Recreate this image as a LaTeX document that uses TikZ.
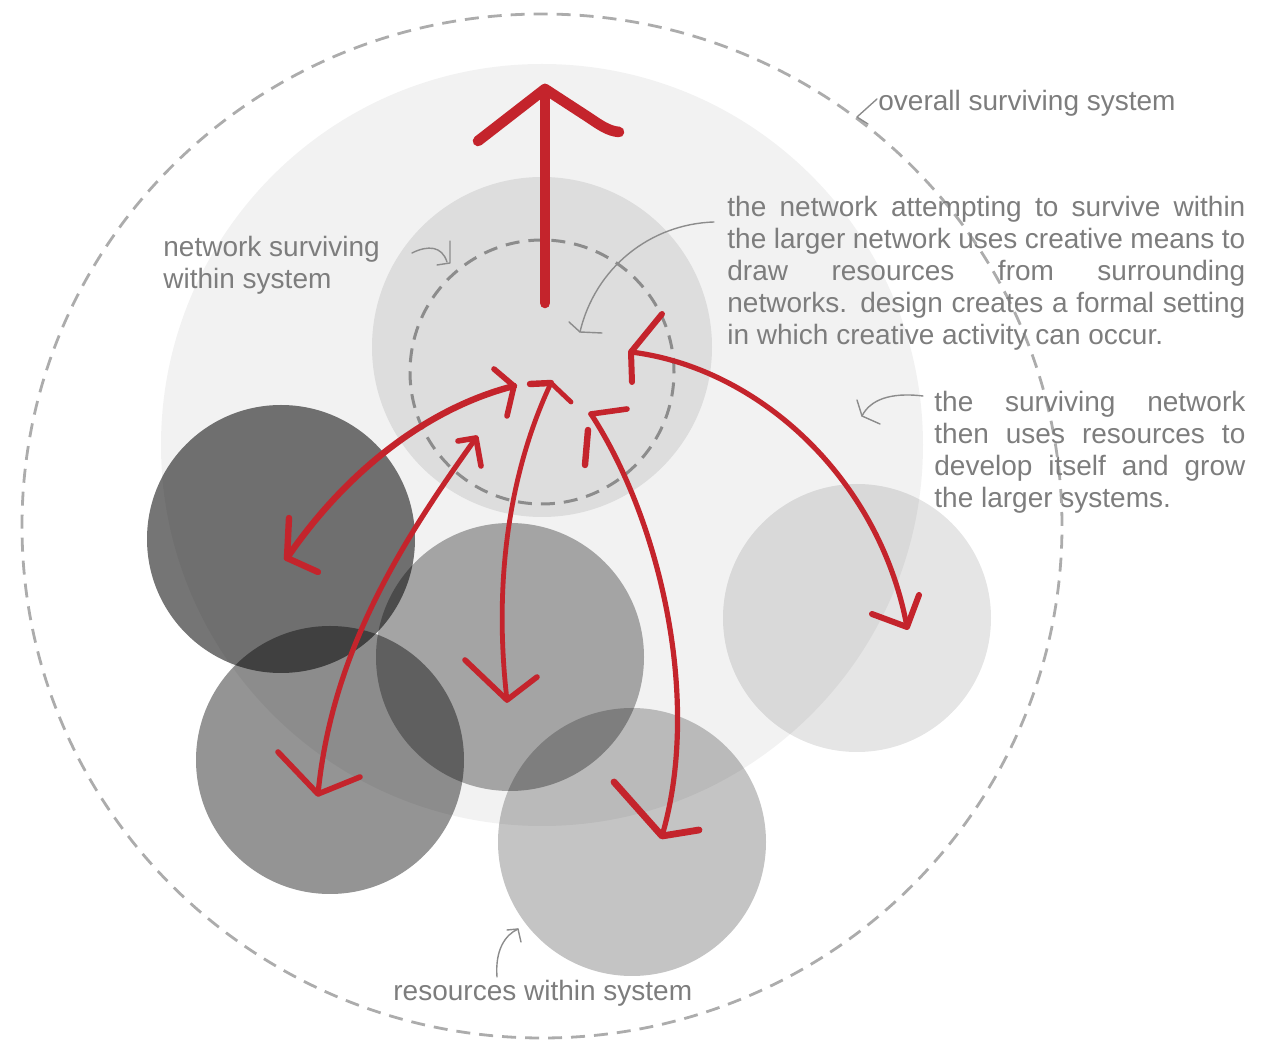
\documentclass[tikz,border=0pt]{standalone}
\usepackage{fontspec}
\usetikzlibrary{shapes.geometric}
\setmainfont{Liberation Sans}
\definecolor{penred}{RGB}{196,36,44}
\definecolor{anngray}{RGB}{140,140,140}
\definecolor{txtgray}{RGB}{125,125,125}
\definecolor{dashgray}{RGB}{172,172,172}
\definecolor{innergray}{RGB}{140,140,140}
\definecolor{sysgray}{RGB}{242,242,242}
\definecolor{netgray}{RGB}{221,221,221}
\begin{document}
\begin{tikzpicture}[x=0.5pt,y=-0.5pt,
  redpen/.style={draw=penred, line cap=round, line join=round},
  ann/.style={draw=anngray, line width=0.7pt, line cap=round, line join=round},
  lbl/.style={text=txtgray, font=\fontsize{14}{16}\selectfont, inner sep=0pt, anchor=base west},
  res/.style={circle, fill=black, draw=none, inner sep=0pt, minimum size=134pt}]
\useasboundingbox (0,0) rectangle (1266,1042);
% outer system
\node[ellipse, draw=dashgray, line width=1.4pt, dash pattern=on 7pt off 4.5pt, inner sep=0pt, minimum width=520pt, minimum height=512pt] (outer) at (542,526) {};
\node[circle, fill=sysgray, draw=none, inner sep=0pt, minimum size=381pt] (sys) at (542,445) {};
% network surviving within system
\node[circle, fill=netgray, draw=none, inner sep=0pt, minimum size=170pt] (net) at (542,347) {};
\node[circle, draw=innergray, line width=1.5pt, dash pattern=on 7pt off 4.5pt, inner sep=0pt, minimum size=132pt] (inner) at (542,372) {};
% resources
\node[res, fill opacity=0.10] (rright) at (857,618) {};
\node[res, fill opacity=0.54] (rdark) at (281,539) {};
\node[res, fill opacity=0.32] (rmid) at (510,657) {};
\node[res, fill opacity=0.42] (rlow) at (330,760) {};
\node[res, fill opacity=0.23] (rbot) at (632,842) {};
% red arrows
\coordinate (top) at (545,89);
\coordinate (topfoot) at (545,303);
\draw[redpen, line width=5.3pt] (topfoot) -- (top);
\draw[redpen, line width=5.3pt] (478,141) -- (top) -- (588,117) .. controls (600,125) and (608,131) .. (619,132);
% arrow to dark circle
\coordinate (a1s) at (514,386);
\coordinate (a1e) at (287,558);
\draw[redpen, line width=3.2pt] (a1e) .. controls (340,480) and (420,410) .. (a1s);
\draw[redpen, line width=3.2pt] (289,518) -- (a1e) -- (318,572);
\draw[redpen, line width=2.8pt] (494,369) -- (a1s) -- (507,416);
% arrow to lower-left circle
\coordinate (a2s) at (476,438);
\coordinate (a2e) at (318,794);
\draw[redpen, line width=2.6pt] (a2s) .. controls (403,540) and (332,650) .. (a2e);
\draw[redpen, line width=2.8pt] (458,441) -- (a2s) -- (481,466);
\draw[redpen, line width=2.8pt] (278,752) -- (a2e) -- (360,777);
% arrow to middle circle
\coordinate (a3s) at (551,383);
\coordinate (a3e) at (507,700);
\draw[redpen, line width=2.4pt] (a3s) .. controls (510,470) and (493,580) .. (a3e);
\draw[redpen, line width=3.2pt] (530,384) -- (a3s);
\draw[redpen, line width=2.4pt] (a3s) -- (571,402);
\draw[redpen, line width=2.8pt] (465,660) -- (a3e) -- (537,677);
% arrow to bottom circle
\coordinate (a4s) at (591,414);
\coordinate (a4e) at (662,836);
\draw[redpen, line width=2.6pt] (a4s) .. controls (660,520) and (702,700) .. (a4e);
\draw[redpen, line width=2.8pt] (627,409) -- (a4s);
\draw[redpen, line width=3.2pt] (588,430) -- (585,465);
\draw[redpen, line width=3.4pt] (614,782) -- (a4e) -- (699,830);
% arrow to right circle
\coordinate (a5s) at (631,352);
\coordinate (a5e) at (907,627);
\draw[redpen, line width=2.6pt] (a5s) .. controls (760,368) and (880,480) .. (a5e);
\draw[redpen, line width=3pt] (662,314) -- (a5s) -- (632,382);
\draw[redpen, line width=3pt] (872,614) -- (a5e) -- (919,595);
% annotations
\coordinate (c1) at (877,99);
\draw[ann] (c1) -- (857,117) -- (868,124);
\node[lbl] (t1) at (878,111) {overall surviving system};

\coordinate (c2) at (447,262);
\draw[ann] (412,253) .. controls (428,245) and (442,246) .. (c2);
\draw[ann] (450,241) -- (450,263) -- (437,265);
\node[lbl] (t2a) at (163,257) {network surviving};
\node[lbl] (t2b) at (163,289) {within system};

\coordinate (c3) at (580,332);
\draw[ann] (714,222) .. controls (650,224) and (595,268) .. (c3);
\draw[ann] (569,322) -- (c3) -- (602,333);
\node[lbl] (t3a) at (727,217) {\makebox[259pt][s]{the network attempting to survive within}};
\node[lbl] (t3b) at (727,249) {\makebox[259pt][s]{the larger network uses creative means to}};
\node[lbl] (t3c) at (727,281) {\makebox[259pt][s]{draw resources from surrounding}};
\node[lbl] (t3d) at (727,313) {\makebox[259pt][s]{networks. design creates a formal setting}};
\node[lbl] (t3e) at (727,345) {in which creative activity can occur.};

\coordinate (c4) at (862,416);
\draw[ann] (923,396) .. controls (890,392) and (870,400) .. (c4);
\draw[ann] (857,400) -- (c4) -- (880,424);
\node[lbl] (t4a) at (934,412) {\makebox[155.5pt][s]{the surviving network}};
\node[lbl] (t4b) at (934,444) {\makebox[155.5pt][s]{then uses resources to}};
\node[lbl] (t4c) at (934,476) {\makebox[155.5pt][s]{develop itself and grow}};
\node[lbl] (t4d) at (934,508) {the larger systems.};

\coordinate (c5) at (518,929);
\draw[ann] (497,977) .. controls (495,950) and (505,935) .. (c5);
\draw[ann] (507,930) -- (c5) -- (521,942);
\node[lbl] (t5) at (393,1001) {resources within system};
\end{tikzpicture}
\end{document}
